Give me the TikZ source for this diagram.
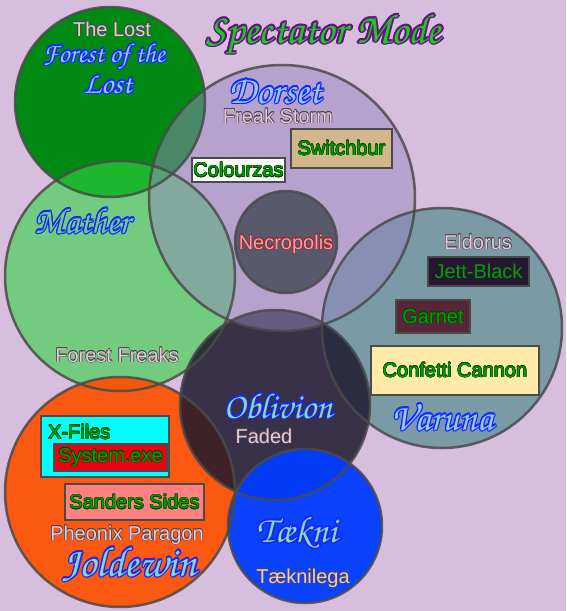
\documentclass[tikz,border=0pt]{standalone}
\usepackage[T1]{fontenc}
\usepackage{fontspec}
\setmainfont{Liberation Sans}
\usepackage{xcolor}
\usepackage{contour}
\usepackage{tikz}

\definecolor{bgcol}{RGB}{216,190,222}
\definecolor{ringgrey}{RGB}{74,74,74}
\definecolor{lostcol}{RGB}{0,138,20}
\definecolor{dorsetcol}{RGB}{148,135,190}
\definecolor{mathercol}{RGB}{49,213,65}
\definecolor{necrocol}{RGB}{78,82,96}
\definecolor{varunacol}{RGB}{60,130,130}
\definecolor{oblivcol}{RGB}{30,25,45}
\definecolor{joldecol}{RGB}{255,80,0}
\definecolor{teknicol}{RGB}{0,60,255}
\definecolor{labelpink}{RGB}{230,202,218}
\definecolor{labeledge}{RGB}{80,70,80}
\definecolor{necropink}{RGB}{240,160,170}
\definecolor{necroedge}{RGB}{170,30,30}
\definecolor{tagtext}{RGB}{0,160,0}
\definecolor{tagedge}{RGB}{0,70,0}
\definecolor{switchtan}{RGB}{210,182,140}
\definecolor{jettdark}{RGB}{38,22,48}
\definecolor{garnetred}{RGB}{88,38,56}
\definecolor{confettiyellow}{RGB}{255,234,170}
\definecolor{xfilescyan}{RGB}{0,255,255}
\definecolor{systemred}{RGB}{235,0,20}
\definecolor{sanderspink}{RGB}{255,128,128}
\definecolor{namefill}{RGB}{150,200,255}
\definecolor{namegreen}{RGB}{140,220,160}
\definecolor{matherfill}{RGB}{116,204,128}
\definecolor{nameblue}{RGB}{20,40,255}
\definecolor{titlegreen}{RGB}{30,200,30}
\definecolor{titlepurple}{RGB}{100,20,130}

\IfFileExists{t1pzc.fd}
  {\newcommand{\fancyfont}{\fontencoding{T1}\fontfamily{pzc}\fontseries{mb}\fontshape{it}\selectfont}}
  {\newcommand{\fancyfont}{\itshape}}

\contournumber{12}

\tikzset{
  ring/.style={draw=ringgrey, line width=2.5pt},
  plain/.style={anchor=base, inner sep=0pt, text=labelpink, font=\fontsize{20}{22}\selectfont},
  tagbox/.style={draw=ringgrey, line width=2.5pt, inner sep=0pt, text=tagtext, font=\fontsize{20}{22}\selectfont},
  scriptname/.style={anchor=base, inner sep=0pt, text=namefill, font=\fancyfont\fontsize{36}{38}\selectfont},
}

\newcommand{\edged}[2]{\contourlength{0.5pt}\contour{#1}{#2}}
\newcommand{\outlined}[2]{\contourlength{1.2pt}\contour{#1}{#2}}

\begin{document}
\begin{tikzpicture}[x=1pt, y=-1pt]
  \fill[bgcol] (0,0) rectangle (566,611);
  \useasboundingbox (0,0) rectangle (566,611);

  % centres of the worlds
  \coordinate (lost) at (110,102);
  \coordinate (mather) at (120,276);
  \coordinate (dorset) at (282,198);
  \coordinate (necro) at (286,242);
  \coordinate (varuna) at (442,328);
  \coordinate (obliv) at (275,405);
  \coordinate (jolde) at (120,492);
  \coordinate (tekni) at (305,526);

  % fills, back to front
  \fill[lostcol] (lost) circle (95);
  \fill[mathercol, fill opacity=0.6] (mather) circle (115);
  \fill[joldecol, fill opacity=0.92] (jolde) circle (115);
  \fill[varunacol, fill opacity=0.6] (varuna) circle (120);
  \fill[oblivcol, fill opacity=0.85] (obliv) circle (95);
  \fill[teknicol, fill opacity=0.95] (tekni) circle (77);
  \fill[dorsetcol, fill opacity=0.5] (dorset) circle (133);
  \fill[necrocol, fill opacity=0.9] (necro) circle (51);

  % outlines on top
  \foreach \c/\r in {lost/95, mather/115, jolde/115, obliv/95, tekni/77, varuna/120, dorset/133, necro/51}
    \draw[ring, draw opacity=0.85] (\c) circle (\r);

  % title
  \node[anchor=base, inner sep=0pt, text=titlegreen, font=\fancyfont\fontsize{42}{44}\selectfont] (title) at (324,43)
    {\contourlength{1.8pt}\contour{titlepurple}{Spectator Mode}};

  % The Lost
  \node[plain] (lostsub) at (112,36) {\edged{labeledge}{The Lost}};
  \node[scriptname, font=\fancyfont\fontsize{27}{29}\selectfont] (lostname) at (104,62) {\outlined{nameblue}{Forest of the}};
  \node[scriptname, font=\fancyfont\fontsize{30}{32}\selectfont] (lostname2) at (108,93) {\outlined{nameblue}{Lost}};

  % Dorset
  \node[scriptname, font=\fancyfont\fontsize{39}{41}\selectfont] (dorsetname) at (275,103) {\outlined{nameblue}{Dorset}};
  \node[plain] (dorsetsub) at (278,123) {\edged{labeledge}{Freak Storm}};
  \node[tagbox, fill=white, minimum width=93pt, minimum height=24pt] (colourzas) at (238.5,170) {\edged{tagedge}{Colourzas}};
  \node[tagbox, fill=switchtan, minimum width=101pt, minimum height=39pt] (switchbur) at (341.5,148.5) {\edged{tagedge}{Switchbur}};
  \node[plain, text=necropink] (necroname) at (286,249) {\edged{necroedge}{Necropolis}};

  % Mather
  \node[scriptname, text=matherfill] (mathername) at (82,233) {\outlined{nameblue}{Mather}};
  \node[plain] (mathersub) at (117,362) {\edged{labeledge}{Forest Freaks}};

  % Varuna
  \node[plain] (varunasub) at (478,249) {\edged{labeledge}{Eldorus}};
  \node[tagbox, fill=jettdark, minimum width=101pt, minimum height=29pt] (jett) at (478.5,271.5) {Jett-Black};
  \node[tagbox, fill=garnetred, minimum width=74pt, minimum height=33pt] (garnet) at (433,316.5) {\edged{tagedge}{Garnet}};
  \node[tagbox, fill=confettiyellow, minimum width=168pt, minimum height=49pt] (confetti) at (455,370.5) {\edged{tagedge}{Confetti Cannon}};
  \node[scriptname, font=\fancyfont\fontsize{38}{40}\selectfont] (varunaname) at (442,430) {\outlined{nameblue}{Varuna}};

  % Oblivion
  \node[scriptname, text=namegreen] (oblivname) at (278,418) {\outlined{nameblue}{Oblivion}};
  \node[plain] (oblivsub) at (264,443) {\edged{labeledge}{Faded}};

  % Joldewin
  \node[tagbox, fill=xfilescyan, minimum width=128pt, minimum height=61pt] (xfiles) at (105,446.5) {};
  \node[anchor=base west, inner sep=0pt, text=tagtext, font=\fontsize{20}{22}\selectfont] (xfilesname) at (48,439) {\edged{tagedge}{X-Files}};
  \node[tagbox, fill=systemred, minimum width=113pt, minimum height=27pt] (system) at (110.5,457.5) {\edged{tagedge}{System.exe}};
  \node[tagbox, fill=sanderspink, minimum width=139pt, minimum height=36pt] (sanders) at (134.5,502) {\edged{tagedge}{Sanders Sides}};
  \node[plain] (joldesub) at (127,540) {\edged{labeledge}{Pheonix Paragon}};
  \node[scriptname, text=namegreen!60!namefill, font=\fancyfont\fontsize{42}{44}\selectfont] (joldename) at (130,576) {\outlined{nameblue}{Joldewin}};

  % Taekni
  \node[scriptname, text=namegreen, font=\fancyfont\fontsize{37}{39}\selectfont] (tekniname) at (297,542)
    {\contourlength{2pt}\contour{nameblue}{T\ae kni}};
  \node[plain] (teknisub) at (303,583) {\edged{labeledge}{T\ae knilega}};
\end{tikzpicture}
\end{document}
